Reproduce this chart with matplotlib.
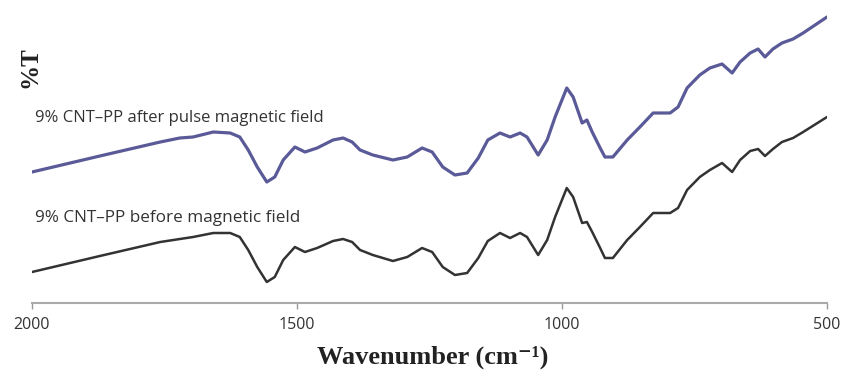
import matplotlib
matplotlib.use("Agg")
import matplotlib.pyplot as plt

# FTIR spectra, values (%T, arbitrary offset)
wavenumber = [2000, 1872, 1758, 1721, 1696, 1658, 1626, 1608, 1592, 1575,
              1557, 1542, 1526, 1504, 1485, 1462, 1432, 1413, 1396, 1381,
              1357, 1319, 1292, 1264, 1245, 1225, 1202, 1179, 1158, 1140,
              1117, 1098, 1079, 1066, 1045, 1028, 1013, 991, 979, 962,
              953, 943, 928, 919, 904, 877, 853, 828, 796, 781,
              764, 740, 721, 698, 679, 664, 645, 630, 617, 602,
              585, 564, 545, 500]
trans_after = [65.5, 73.5, 80.5, 82.5, 83, 85.5, 85, 83, 76.5, 68,
               60.5, 63, 71.5, 78, 75.5, 77.5, 81.5, 82.5, 80.5, 76.5,
               74, 71.5, 73, 77.5, 75.5, 68, 64, 65, 72.5, 81.5,
               85, 83, 85, 83, 74, 81.5, 93, 107.5, 103, 90,
               91.5, 85.5, 77.5, 73, 73, 81.5, 88, 95, 95, 98,
               107.5, 114, 117.5, 119.5, 115, 120.5, 125, 127, 123, 127,
               130, 132, 135, 143]
trans_before = [15.5, 23.5, 30.5, 32, 33, 35, 35, 33, 26.5, 18,
                10.5, 13, 21.5, 28, 25.5, 27.5, 31, 32, 30.5, 26.5,
                24, 21, 23, 27.5, 25.5, 18, 14, 15, 22.5, 31,
                35, 32.5, 35, 33, 24, 31.5, 43, 57.5, 53, 40,
                40.5, 35.5, 27.5, 22.5, 22.5, 31.5, 38, 45, 45, 47.5,
                56.5, 63, 66.5, 70, 65.5, 71.5, 76, 77, 73.5, 77,
                80.5, 82.5, 85.5, 93]

x_ticks = [2000, 1500, 1000, 500]
label_after = "9% CNT\u2013PP after pulse magnetic field"
label_before = "9% CNT\u2013PP before magnetic field"

fig = plt.figure(figsize=(8.44, 3.70), dpi=100)
ax = fig.add_axes([32 / 844, 67 / 370, 795 / 844, 303 / 370])

ax.plot(wavenumber, trans_after, color="#5a5a98", lw=2.3,
        solid_joinstyle="round", solid_capstyle="round")
ax.plot(wavenumber, trans_before, color="#333333", lw=1.8,
        solid_joinstyle="round", solid_capstyle="round")

ax.text(1994, 92.5, label_after, fontsize=12, family="Open Sans",
        color="#333333", ha="left", va="center")
ax.text(1994, 42.5, label_before, fontsize=12.3, family="Open Sans",
        color="#333333", ha="left", va="center")

ax.set_xlim(2000, 500)
ax.set_ylim(0, 151.5)
ax.set_xticks(x_ticks)
ax.set_xticklabels([str(t) for t in x_ticks], family="Open Sans",
                   fontsize=11.5, color="#333333")
ax.set_yticks([])
ax.tick_params(axis="x", direction="out", length=4, width=1,
               color="#999999", pad=6)
for side in ["top", "right", "left"]:
    ax.spines[side].set_visible(False)
ax.spines["bottom"].set_color("#aaaaaa")
ax.spines["bottom"].set_linewidth(1.5)

fig.text(433 / 844, 1 - 364 / 370, "Wavenumber (cm\u207b\u00b9)",
         family=["Liberation Serif", "DejaVu Serif"], fontweight="bold",
         fontsize=19, ha="center", va="baseline", color="#222222")
fig.text(30 / 844, 1 - 67 / 370, "%T", family="Liberation Serif",
         fontweight="bold", fontsize=18, rotation=90,
         ha="center", va="center", color="#222222")

fig.savefig("out.png", dpi=100)
